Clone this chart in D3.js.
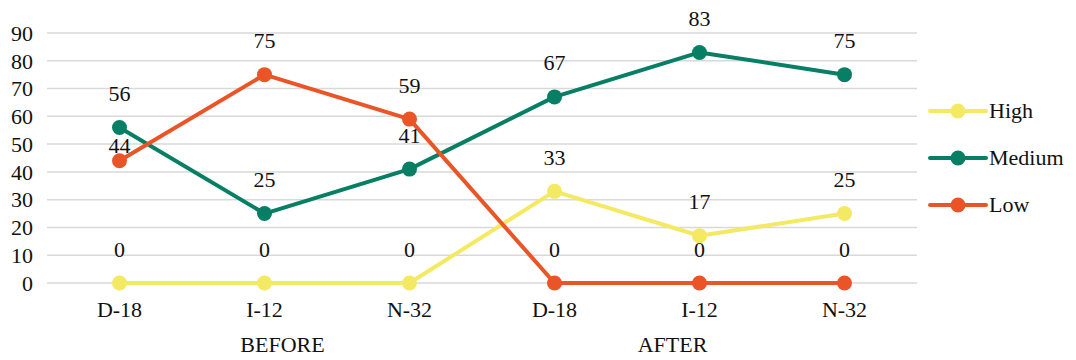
<!DOCTYPE html>
<html>
<head>
<meta charset="utf-8">
<script src="https://cdnjs.cloudflare.com/ajax/libs/d3/7.8.5/d3.min.js"></script>
<style>
  body { margin: 0; background: #fff; }
</style>
</head>
<body>
<div class="chart"></div>
<script>
// data
var categories = ["D-18", "I-12", "N-32", "D-18", "I-12", "N-32"];
var groups = ["BEFORE", "AFTER"];
var seriesNames = ["High", "Medium", "Low"];
var high = [0, 0, 0, 33, 17, 25];
var medium = [56, 25, 41, 67, 83, 75];
var low = [44, 75, 59, 0, 0, 0];
var yTicks = [0, 10, 20, 30, 40, 50, 60, 70, 80, 90];

var colors = ["#f4e963", "#067f65", "#ea5527"];
var values = [high, medium, low];

var fontFam = "'Liberation Serif'";
var fontSize = "22px";

var width = 1076, height = 360;
var margin = { top: 33, right: 159, bottom: 77, left: 47 };
var plotW = width - margin.left - margin.right,
    plotH = height - margin.top - margin.bottom;

var svg = d3.select(".chart")
    .append("svg")
    .attr("width", width)
    .attr("height", height);

var g = svg.append("g")
    .attr("transform", "translate(" + margin.left + "," + margin.top + ")");

var x = d3.scaleBand()
    .domain(d3.range(categories.length))
    .range([0, plotW]);

var y = d3.scaleLinear()
    .domain([0, 90])
    .range([plotH, 0]);

// gridlines
g.selectAll(".grid")
    .data(yTicks)
    .enter()
    .append("line")
    .attr("x1", 0)
    .attr("x2", plotW)
    .attr("y1", function (d) { return y(d); })
    .attr("y2", function (d) { return y(d); })
    .attr("stroke", "#d9d9d9")
    .attr("stroke-width", 1.5);

// y axis labels
var yAxis = d3.axisLeft(y).tickValues(yTicks).tickSize(0).tickPadding(14);
g.append("g")
    .call(yAxis)
    .call(function (a) { a.select(".domain").remove(); })
    .selectAll("text")
    .attr("dy", "0.33em");

// x axis labels
var xAxis = d3.axisBottom(x).tickFormat(function (i) { return categories[i]; })
    .tickSize(0);
g.append("g")
    .attr("transform", "translate(0," + plotH + ")")
    .call(xAxis)
    .call(function (a) { a.select(".domain").remove(); })
    .selectAll("text")
    .attr("y", 34)
    .attr("dy", null);

// group labels
var groupNudge = [18, -27];
g.selectAll(".group")
    .data(groups)
    .enter()
    .append("text")
    .attr("text-anchor", "middle")
    .attr("x", function (d, i) { return x(i * 3 + 1) + x.bandwidth() / 2 + groupNudge[i]; })
    .attr("y", plotH + 69)
    .text(function (d) { return d; });

var line = d3.line()
    .x(function (d, i) { return x(i) + x.bandwidth() / 2; })
    .y(function (d) { return y(d); });

// baseline lift of the value labels (the 44 label was moved down in the original)
var labelLift = { "2-0": 8 };

values.forEach(function (vals, s) {
    g.append("path")
        .datum(vals)
        .attr("fill", "none")
        .attr("stroke", colors[s])
        .attr("stroke-width", 4)
        .attr("stroke-linejoin", "round")
        .attr("d", line);
});

values.forEach(function (vals, s) {
    g.selectAll(".pt" + s)
        .data(vals)
        .enter()
        .append("circle")
        .attr("cx", function (d, i) { return x(i) + x.bandwidth() / 2; })
        .attr("cy", function (d) { return y(d); })
        .attr("r", 7.5)
        .attr("fill", colors[s]);
});

values.forEach(function (vals, s) {
    g.selectAll(".lbl" + s)
        .data(vals)
        .enter()
        .append("text")
        .attr("text-anchor", "middle")
        .attr("x", function (d, i) { return x(i) + x.bandwidth() / 2; })
        .attr("y", function (d, i) {
            var lift = labelLift[s + "-" + i] !== undefined ? labelLift[s + "-" + i] : 26.5;
            return y(d) - lift;
        })
        .text(function (d) { return d; });
});

// legend
var legend = svg.append("g")
    .attr("transform", "translate(930,111)");
seriesNames.forEach(function (name, s) {
    var row = legend.append("g").attr("transform", "translate(0," + s * 47 + ")");
    row.append("line")
        .attr("x1", 0).attr("x2", 56)
        .attr("stroke", colors[s])
        .attr("stroke-width", 4)
        .attr("stroke-linecap", "round");
    row.append("circle")
        .attr("cx", 28).attr("r", 7.5)
        .attr("fill", colors[s]);
    row.append("text")
        .attr("x", 59)
        .attr("y", 7)
        .text(name);
});

// same font on every text
svg.selectAll("text")
    .style("font-family", fontFam)
    .style("font-size", fontSize)
    .style("fill", "#111");
</script>
</body>
</html>
